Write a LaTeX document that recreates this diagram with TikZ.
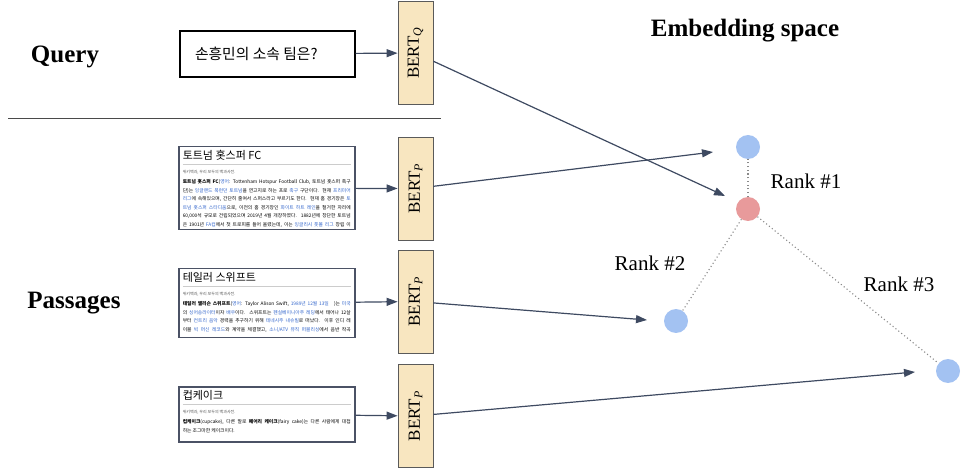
\documentclass[tikz,border=0pt]{standalone}
\usepackage{fontspec}
\setmainfont{Liberation Serif}
\newfontfamily\kr{Noto Sans CJK KR}
\usetikzlibrary{arrows.meta}
\definecolor{arr}{HTML}{3E4A61}
\definecolor{bertfill}{HTML}{F8E6C0}
\definecolor{bertdraw}{HTML}{5A5A5A}
\definecolor{pasdraw}{HTML}{4B5265}
\definecolor{ptblue}{HTML}{A3C2F2}
\definecolor{ptred}{HTML}{E89A9B}
\definecolor{wlink}{HTML}{3366CC}
\definecolor{rulegray}{HTML}{CCCCCC}
\definecolor{subgray}{HTML}{555555}
\definecolor{hline}{HTML}{4A4A4A}
\definecolor{dotgray}{HTML}{8A8A8A}
\newcommand{\lk}[1]{\textcolor{wlink}{#1}}
\newcommand{\jl}[1]{\makebox[\linewidth][s]{#1}\par}
\newcommand{\lastln}[1]{#1\par}
\newcommand{\pasg}[3]{\parbox[c][#1][t]{168pt}{\kr{\fontsize{11}{12}\selectfont #2\par}\vspace{3.5pt}{\color{rulegray}\hrule height 0.5pt}\vspace{5pt}{\color{subgray}\fontsize{4}{5}\selectfont 위키백과, 우리 모두의 백과사전.\par}\vspace{2pt}{\fontsize{4.8}{8.5}\selectfont #3}}}
\begin{document}
\begin{tikzpicture}[x=1pt,y=-1pt,
  bertbox/.style={draw=bertdraw, fill=bertfill, line width=0.8pt, minimum width=35pt, minimum height=103pt, inner sep=0pt, font=\fontsize{17}{20}\selectfont},
  passage/.style={draw=pasdraw, line width=1.5pt, inner xsep=4pt, inner ysep=4pt, anchor=north west, fill=white},
  qbox/.style={draw=black, line width=1.1pt, minimum width=175pt, minimum height=46pt, inner sep=0pt},
  flow/.style={draw=arr, line width=1.2pt, -{Triangle[length=11pt,width=8pt]}},
  dotline/.style={draw=dotgray, line width=1.1pt, dash pattern=on 1.1pt off 2.6pt},
  bluept/.style={circle, fill=ptblue, minimum size=24pt, inner sep=0pt},
  redpt/.style={circle, fill=ptred, minimum size=24pt, inner sep=0pt},
  rank/.style={font=\fontsize{21}{24}\selectfont},
  head/.style={font=\bfseries\fontsize{25}{28}\selectfont}]
\useasboundingbox (0,0) rectangle (970,473);

% headings
\node[head] (hq) at (65,57) {Query};
\node[head] (hp) at (74,303) {Passages};
\node[head] (he) at (745,31) {Embedding space};

% separator
\coordinate (s1) at (8,119);
\coordinate (s2) at (441,119);
\draw[hline, line width=1pt] (s1) -- (s2);

% query
\node[qbox] (q) at (267.5,54) {\parbox{145pt}{\kr\fontsize{14.8}{17}\selectfont 손흥민의 소속 팀은?}};

% BERT encoders
\node[bertbox] (bq) at (415.5,53) {\rotatebox{90}{BERT$_{\mathit{Q}}$}};
\node[bertbox] (bp1) at (415.5,188.5) {\rotatebox{90}{BERT$_{\mathit{P}}$}};
\node[bertbox] (bp2) at (415.5,301.5) {\rotatebox{90}{BERT$_{\mathit{P}}$}};
\node[bertbox] (bp3) at (415.5,416) {\rotatebox{90}{BERT$_{\mathit{P}}$}};

% passages
\node[passage] (p1) at (178,146) {\pasg{75pt}{토트넘 홋스퍼 FC}{%
\jl{\textbf{토트넘 홋스퍼 FC}(\lk{영어}: Tottenham Hotspur Football Club, 토트넘 홋스퍼 축구}
\jl{단)는 \lk{잉글랜드 북런던 토트넘}을 연고지로 하는 프로 \lk{축구} 구단이다. 현재 \lk{프리미어}}
\jl{\lk{리그}에 속해있으며, 간단히 줄여서 스퍼스라고 부르기도 한다. 현재 홈 경기장은 \lk{토}}
\jl{\lk{트넘 홋스퍼 스타디움}으로, 이전의 홈 경기장인 \lk{화이트 하트 레인}을 철거한 자리에}
\jl{60,000석 규모로 건립되었으며 2019년 4월 개장하였다. 1882년에 창단한 토트넘}
\jl{은 1901년 \lk{FA컵}에서 첫 트로피를 들어 올렸는데, 이는 \lk{잉글리시 풋볼 리그} 창립 이}}};

\node[passage] (p2) at (178,268) {\pasg{61pt}{테일러 스위프트}{%
\jl{\textbf{테일러 앨리슨 스위프트}(\lk{영어}: Taylor Alison Swift, \lk{1989년} \lk{12월 13일} ~ )는 \lk{미국}}
\jl{의 \lk{싱어송라이터}이자 \lk{배우}이다. 스위프트는 \lk{펜실베이니아주 레딩}에서 태어나 12살}
\jl{부터 \lk{컨트리 음악} 경력을 추구하기 위해 \lk{테네시주 내슈빌}로 떠났다. 이후 인디 레}
\jl{이블 \lk{빅 머신 레코드}와 계약을 체결했고, \lk{소니/ATV 뮤직 퍼블리싱}에서 음반 작곡}}};

\node[passage] (p3) at (178,386) {\pasg{47pt}{컵케이크}{%
\jl{\textbf{컵케이크}(cupcake), 다른 말로 \textbf{페어리 케이크}(fairy cake)는 다른 사람에게 대접}
\lastln{하는 조그마한 케이크이다.}}};

% embedding points
\node[bluept] (e1) at (748,147) {};
\node[redpt] (eq) at (748,209) {};
\node[bluept] (e2) at (676,321) {};
\node[bluept] (e3) at (948,371) {};

% arrow tips
\coordinate (tq) at (725,196);
\coordinate (t1) at (713,152);
\coordinate (t2) at (647,320);
\coordinate (t3) at (915,372);

% inputs
\draw[flow] (q) -- (bq);
\draw[flow] (p1) -- (bp1);
\draw[flow] (p2) -- (bp2);
\draw[flow] (p3) -- (bp3);

% outputs
\draw[flow] (bq) -- (tq);
\draw[flow] (bp1) -- (t1);
\draw[flow] (bp2) -- (t2);
\draw[flow] (bp3) -- (t3);

% similarity
\draw[dotline] (eq) -- (e1);
\draw[dotline] (eq) -- (e2);
\draw[dotline] (eq) -- (e3);

% ranks
\node[rank] (r1) at (806,181) {Rank \#1};
\node[rank] (r2) at (650,263) {Rank \#2};
\node[rank] (r3) at (899,284) {Rank \#3};
\end{tikzpicture}
\end{document}
